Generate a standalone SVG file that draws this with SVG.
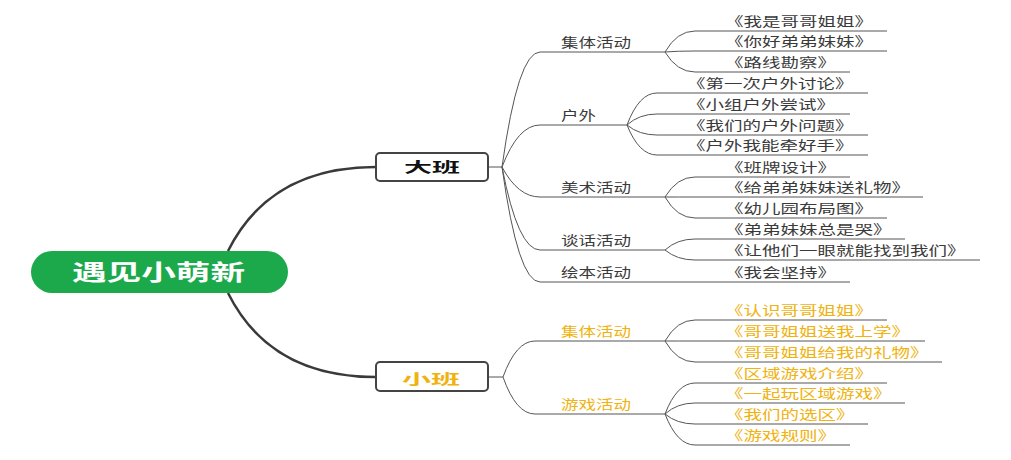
<svg xmlns="http://www.w3.org/2000/svg" width="1011" height="460" viewBox="0 0 1011 460">
<style>
.t{font-family:"Noto Sans CJK SC","Noto Sans",sans-serif;font-size:13px;fill:#3a3a3a;lengthAdjust:spacingAndGlyphs}
.o{fill:#EFB20E}
.ln{fill:none;stroke:#555;stroke-width:1}
.main{fill:none;stroke:#3a3a3a;stroke-width:2.5}
.box{fill:#fff;stroke:#444;stroke-width:2}
.bt{font-family:"Noto Sans CJK SC","Noto Sans",sans-serif;font-weight:bold;font-size:14px}
</style>
<rect width="1011" height="460" fill="#fff"/>
<g id="connectors">
<path class="main" d="M228,251 Q270,167 376,167"/>
<path class="main" d="M228,293 Q270,377 376,377"/>
<path class="ln" d="M488,167 H502"/>
<path class="ln" d="M502,167 Q518,52 540,52 H665"/>
<path class="ln" d="M502,167 Q518,125 540,125 H627"/>
<path class="ln" d="M502,167 Q518,197 540,197 H665"/>
<path class="ln" d="M502,167 Q518,250 540,250 H665"/>
<path class="ln" d="M502,167 Q518,282 540,282 H850"/>
<path class="ln" d="M665,52 Q677,31 695,31 H887"/>
<path class="ln" d="M665,52 Q677,51 695,51 H887"/>
<path class="ln" d="M665,52 Q677,72 695,72 H850"/>
<path class="ln" d="M627,125 Q639,93 657,93 H868"/>
<path class="ln" d="M627,125 Q639,114 657,114 H850"/>
<path class="ln" d="M627,125 Q639,135 657,135 H868"/>
<path class="ln" d="M627,125 Q639,155 657,155 H868"/>
<path class="ln" d="M665,197 Q677,177 695,177 H850"/>
<path class="ln" d="M665,197 Q677,197 695,197 H923"/>
<path class="ln" d="M665,197 Q677,218 695,218 H887"/>
<path class="ln" d="M665,250 Q677,239 695,239 H905"/>
<path class="ln" d="M665,250 Q677,260 695,260 H980"/>
<path class="ln" d="M488,377 H503"/>
<path class="ln" d="M503,377 Q516,341 535,341 H665"/>
<path class="ln" d="M503,377 Q516,414 535,414 H665"/>
<path class="ln" d="M665,341 Q677,320 695,320 H887"/>
<path class="ln" d="M665,341 Q677,341 695,341 H925"/>
<path class="ln" d="M665,341 Q677,362 695,362 H942"/>
<path class="ln" d="M665,414 Q677,383 695,383 H887"/>
<path class="ln" d="M665,414 Q677,403 695,403 H905"/>
<path class="ln" d="M665,414 Q677,424 695,424 H868"/>
<path class="ln" d="M665,414 Q677,445 695,445 H850"/>
</g>
<g id="root">
<rect x="31" y="251" width="257" height="42" rx="21" fill="#1BA94C"/>
<text x="72" y="279.5" font-family="Noto Sans CJK SC,sans-serif" font-weight="bold" font-size="22" fill="#fff" textLength="173" lengthAdjust="spacingAndGlyphs">遇见小萌新</text>
</g>
<g id="dab">
<rect class="box" x="376" y="153" width="112" height="28" rx="4"/>
<text class="bt" x="404" y="171.5" fill="#111" textLength="56" lengthAdjust="spacingAndGlyphs">大班</text>
</g>
<g id="xiaob">
<rect class="box" x="376" y="362" width="112" height="29" rx="4"/>
<text class="bt" x="402" y="383.5" fill="#EFB20E" textLength="58" lengthAdjust="spacingAndGlyphs">小班</text>
</g>
<g id="d-jiti"><text class="t" x="561" y="47" textLength="70" lengthAdjust="spacingAndGlyphs">集体活动</text></g>
<g id="d-huwai"><text class="t" x="561" y="120" textLength="35" lengthAdjust="spacingAndGlyphs">户外</text></g>
<g id="d-meishu"><text class="t" x="561" y="192" textLength="70" lengthAdjust="spacingAndGlyphs">美术活动</text></g>
<g id="d-tanhua"><text class="t" x="561" y="245" textLength="70" lengthAdjust="spacingAndGlyphs">谈话活动</text></g>
<g id="d-huiben"><text class="t" x="561" y="277" textLength="70" lengthAdjust="spacingAndGlyphs">绘本活动</text></g>
<g id="l1"><text class="t" x="725" y="26" textLength="148" lengthAdjust="spacingAndGlyphs">《我是哥哥姐姐》</text></g>
<g id="l2"><text class="t" x="725" y="46" textLength="148" lengthAdjust="spacingAndGlyphs">《你好弟弟妹妹》</text></g>
<g id="l3"><text class="t" x="725" y="67" textLength="111" lengthAdjust="spacingAndGlyphs">《路线勘察》</text></g>
<g id="l4"><text class="t" x="687" y="88" textLength="166.5" lengthAdjust="spacingAndGlyphs">《第一次户外讨论》</text></g>
<g id="l5"><text class="t" x="687" y="109" textLength="148" lengthAdjust="spacingAndGlyphs">《小组户外尝试》</text></g>
<g id="l6"><text class="t" x="687" y="130" textLength="166.5" lengthAdjust="spacingAndGlyphs">《我们的户外问题》</text></g>
<g id="l7"><text class="t" x="687" y="150" textLength="166.5" lengthAdjust="spacingAndGlyphs">《户外我能牵好手》</text></g>
<g id="l8"><text class="t" x="725" y="172" textLength="111" lengthAdjust="spacingAndGlyphs">《班牌设计》</text></g>
<g id="l9"><text class="t" x="725" y="192" textLength="185" lengthAdjust="spacingAndGlyphs">《给弟弟妹妹送礼物》</text></g>
<g id="l10"><text class="t" x="725" y="213" textLength="148" lengthAdjust="spacingAndGlyphs">《幼儿园布局图》</text></g>
<g id="l11"><text class="t" x="725" y="234" textLength="166.5" lengthAdjust="spacingAndGlyphs">《弟弟妹妹总是哭》</text></g>
<g id="l12"><text class="t" x="725" y="255" textLength="240.5" lengthAdjust="spacingAndGlyphs">《让他们一眼就能找到我们》</text></g>
<g id="l13"><text class="t" x="725" y="277" textLength="111" lengthAdjust="spacingAndGlyphs">《我会坚持》</text></g>
<g id="x-jiti"><text class="t o" x="561" y="336" textLength="70" lengthAdjust="spacingAndGlyphs">集体活动</text></g>
<g id="x-youxi"><text class="t o" x="561" y="409" textLength="70" lengthAdjust="spacingAndGlyphs">游戏活动</text></g>
<g id="l14"><text class="t o" x="725" y="315" textLength="148" lengthAdjust="spacingAndGlyphs">《认识哥哥姐姐》</text></g>
<g id="l15"><text class="t o" x="725" y="336" textLength="185" lengthAdjust="spacingAndGlyphs">《哥哥姐姐送我上学》</text></g>
<g id="l16"><text class="t o" x="725" y="357" textLength="203.5" lengthAdjust="spacingAndGlyphs">《哥哥姐姐给我的礼物》</text></g>
<g id="l17"><text class="t o" x="725" y="378" textLength="148" lengthAdjust="spacingAndGlyphs">《区域游戏介绍》</text></g>
<g id="l18"><text class="t o" x="725" y="398" textLength="166.5" lengthAdjust="spacingAndGlyphs">《一起玩区域游戏》</text></g>
<g id="l19"><text class="t o" x="725" y="419" textLength="129.5" lengthAdjust="spacingAndGlyphs">《我们的选区》</text></g>
<g id="l20"><text class="t o" x="725" y="440" textLength="111" lengthAdjust="spacingAndGlyphs">《游戏规则》</text></g>
</svg>
